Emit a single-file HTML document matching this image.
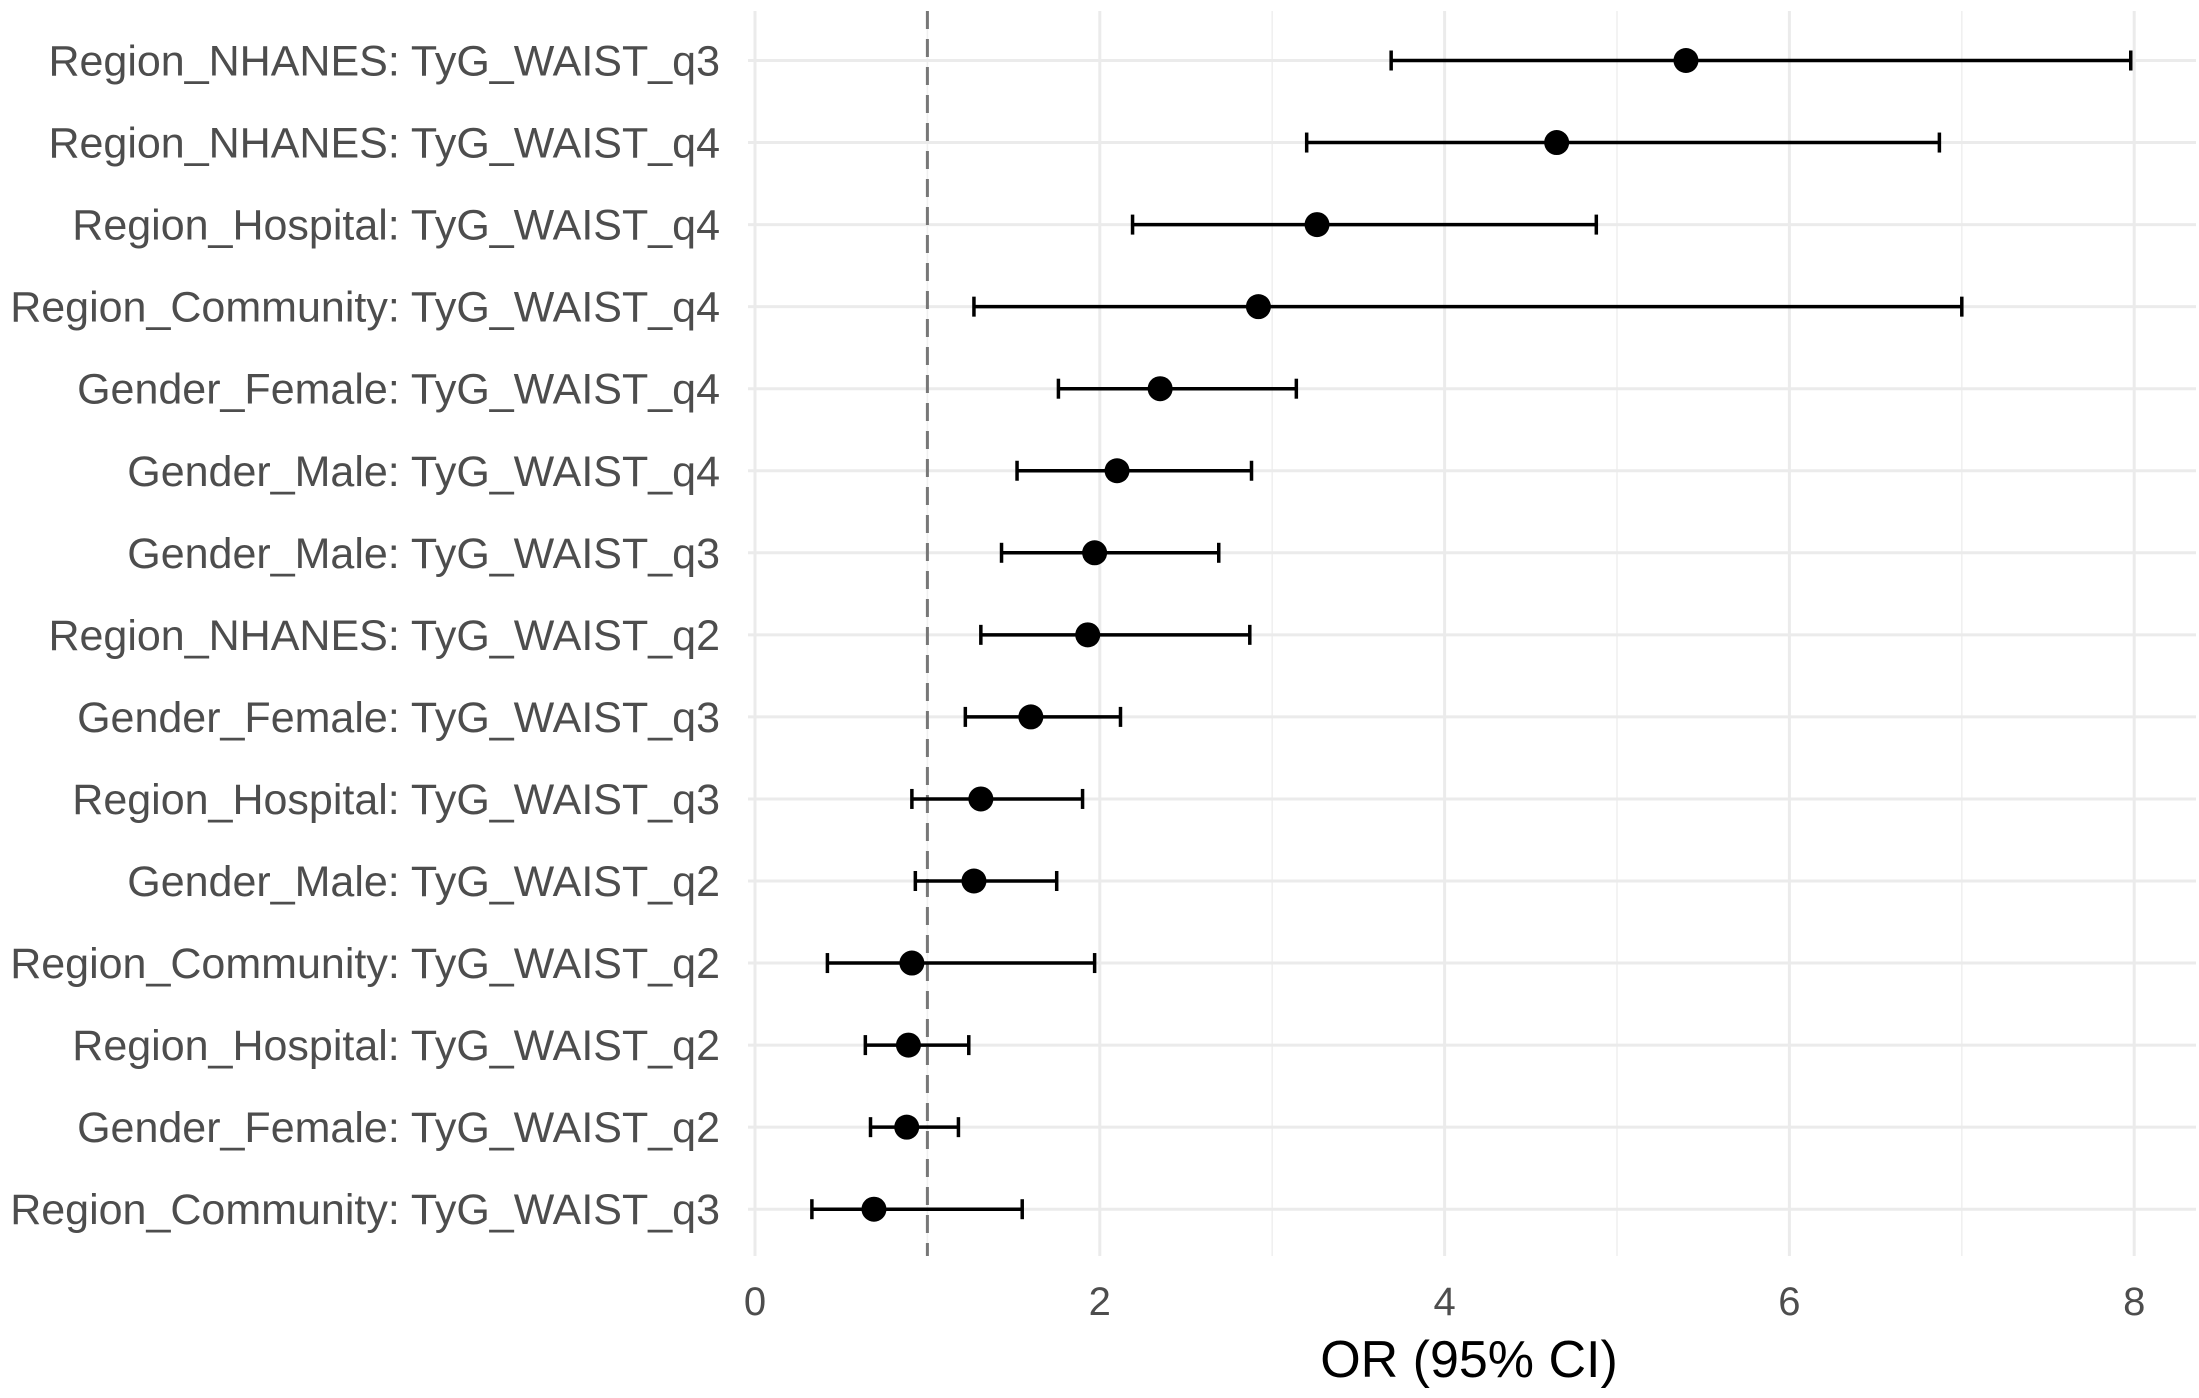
<!DOCTYPE html>
<html><head><meta charset="utf-8"><style>
html,body{margin:0;padding:0;background:#fff;}
svg{display:block;font-family:"Liberation Sans",Arial,sans-serif;}
</style></head><body>
<svg id="chart" width="2199" height="1398" viewBox="0 0 2199 1398">
<g id="grid"></g>
<g id="marks"></g>
<g id="labels"></g>
<text x="1469" y="1377" text-anchor="middle" font-size="52" fill="#000">OR (95% CI)</text>
</svg>
<script>
const categories = ["Region_NHANES: TyG_WAIST_q3","Region_NHANES: TyG_WAIST_q4","Region_Hospital: TyG_WAIST_q4","Region_Community: TyG_WAIST_q4","Gender_Female: TyG_WAIST_q4","Gender_Male: TyG_WAIST_q4","Gender_Male: TyG_WAIST_q3","Region_NHANES: TyG_WAIST_q2","Gender_Female: TyG_WAIST_q3","Region_Hospital: TyG_WAIST_q3","Gender_Male: TyG_WAIST_q2","Region_Community: TyG_WAIST_q2","Region_Hospital: TyG_WAIST_q2","Gender_Female: TyG_WAIST_q2","Region_Community: TyG_WAIST_q3"];
const orValues = [5.40,4.65,3.26,2.92,2.35,2.10,1.97,1.93,1.60,1.31,1.27,0.91,0.89,0.88,0.69];
const lowerCI = [3.69,3.20,2.19,1.27,1.76,1.52,1.43,1.31,1.22,0.91,0.93,0.42,0.64,0.67,0.33];
const upperCI = [7.98,6.87,4.88,7.00,3.14,2.88,2.69,2.87,2.12,1.90,1.75,1.97,1.24,1.18,1.55];
const xTicks = [0,2,4,6,8];
const xMinor = [1,3,5,7];
const refValue = 1;

const NS="http://www.w3.org/2000/svg";
const X0=755, XU=172.4, Y0=60.5, YS=82.05, TOP=11, BOT=1256, LEFT=748, RIGHT=2196;
const xs=v=>X0+v*XU, ys=i=>Y0+i*YS;
function mk(p,tag,a){const e=document.createElementNS(NS,tag);for(const k in a)e.setAttribute(k,a[k]);p.appendChild(e);return e;}
const grid=document.getElementById('grid'), marks=document.getElementById('marks'), labels=document.getElementById('labels');
xMinor.forEach(v=>{const l=mk(grid,'line',{x1:xs(v),x2:xs(v),y1:TOP,y2:BOT,stroke:'#f0f0f0','stroke-width':1.6});

});
xTicks.forEach(v=>{const l=mk(grid,'line',{x1:xs(v),x2:xs(v),y1:TOP,y2:BOT,stroke:'#ebebeb','stroke-width':3});


const t=mk(labels,'text',{x:xs(v),y:1315,'text-anchor':'middle','font-size':40,fill:'#4d4d4d'});t.textContent=v;

});
categories.forEach((c,i)=>{const l=mk(grid,'line',{x1:LEFT,x2:RIGHT,y1:ys(i),y2:ys(i),stroke:'#ebebeb','stroke-width':3});


const t=mk(labels,'text',{x:720,y:ys(i)+15,'text-anchor':'end','font-size':43,fill:'#4d4d4d'});t.textContent=c;

});
const ref=mk(marks,'line',{x1:xs(refValue),x2:xs(refValue),y1:TOP,y2:BOT,stroke:'#777','stroke-width':3,'stroke-dasharray':'18,10'});


categories.forEach((c,i)=>{const y=ys(i);
const g=mk(marks,'g',{});


mk(g,'line',{x1:xs(lowerCI[i]),x2:xs(upperCI[i]),y1:y,y2:y,stroke:'#000','stroke-width':3.5});
mk(g,'line',{x1:xs(lowerCI[i]),x2:xs(lowerCI[i]),y1:y-10,y2:y+10,stroke:'#000','stroke-width':3.5});
mk(g,'line',{x1:xs(upperCI[i]),x2:xs(upperCI[i]),y1:y-10,y2:y+10,stroke:'#000','stroke-width':3.5});
const p=mk(g,'circle',{cx:xs(orValues[i]),cy:y,r:12.5,fill:'#000'});

});
</script>
</body></html>
